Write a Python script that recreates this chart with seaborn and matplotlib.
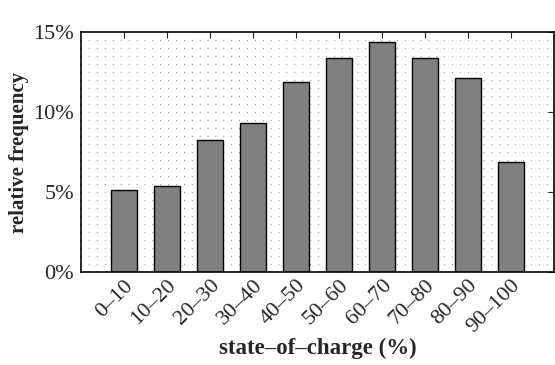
import matplotlib
matplotlib.use("Agg")
import matplotlib.pyplot as plt
import seaborn as sns
import pandas as pd
import numpy as np
from matplotlib.ticker import FuncFormatter

categories = ["0–10", "10–20", "20–30", "30–40", "40–50", "50–60",
              "60–70", "70–80", "80–90", "90–100"]
values = [5.1, 5.4, 8.25, 9.3, 11.85, 13.4, 14.4, 13.35, 12.15, 6.9]
yticks = [0, 5, 10, 15]

sns.set_style("white")
plt.rcParams['font.family'] = ['Liberation Serif', 'DejaVu Serif']

df = pd.DataFrame({"cat": categories, "val": values})

fig = plt.figure(figsize=(5.55, 3.65), dpi=100)
ax = fig.add_axes([81/555, 1-272/365, (554-81)/555, (272-32)/365])

# dotted grid behind
for yv in np.arange(0.5, 15.0, 0.5):
    ax.axhline(yv, color='#666666', lw=0.8, linestyle=(0, (0.6, 6.5)), zorder=0)

sns.barplot(data=df, x="cat", y="val", color="#808080", saturation=1,
            width=0.6, edgecolor="black", linewidth=1.0, ax=ax, zorder=2)

ax.set_xlim(-1, 10)
ax.set_ylim(0, 15)
ax.set_yticks(yticks)
ax.yaxis.set_major_formatter(FuncFormatter(lambda v, p: f"{int(v)}%"))
ax.tick_params(axis='both', direction='in', length=4, width=0.8,
               top=True, right=True, labelsize=16, pad=5)
ax.tick_params(axis='x', pad=3)
for lab in ax.get_xticklabels():
    lab.set_rotation(45)
    lab.set_ha('right')
    lab.set_va('top')
    lab.set_rotation_mode('anchor')
    lab.set_fontsize(16)
for s in ax.spines.values():
    s.set_linewidth(1.2)
    s.set_color('black')

ax.set_xlabel("state–of–charge (%)", fontsize=16.5, fontweight='bold', labelpad=1)
ax.set_ylabel("relative frequency", fontsize=15, fontweight='bold', labelpad=3)

fig.savefig("out.png", dpi=100)
